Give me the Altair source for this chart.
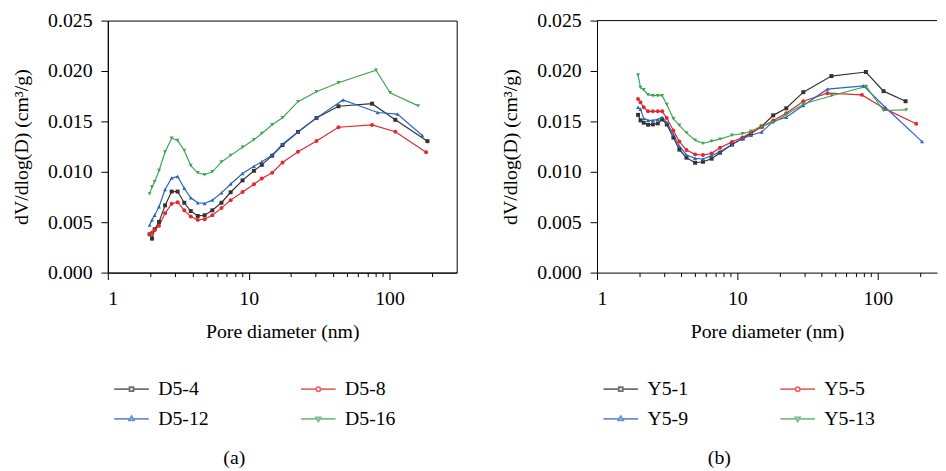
import altair as alt
import pandas as pd

FONT = "Liberation Serif"

# ---------------- Panel (a) ----------------
a_series = ["D5-4", "D5-8", "D5-12", "D5-16"]
a_common = [1.98, 2.06, 2.15, 2.31, 2.55, 2.84, 3.13, 3.49, 3.88, 4.35, 4.87,
            5.52, 6.41, 7.45, 9.05, 10.9, 12.4, 14.7, 17.4, 22.4, 30.3, 43.4]
a_x = {
    "D5-4": a_common + [75.2, 110, 186],
    "D5-8": a_common + [75.2, 110, 182],
    "D5-12": a_common[:21] + [46.8, 82.4, 114, 171],
    "D5-16": a_common + [80.2, 101, 160],
}
a_y = {
    "D5-4": [0.0038, 0.00337, 0.0043, 0.00503, 0.00667, 0.00804, 0.00804, 0.00693,
             0.00611, 0.00562, 0.00569, 0.00618, 0.00693, 0.00797, 0.00915, 0.0101,
             0.01069, 0.0116, 0.01265, 0.01395, 0.01533, 0.0165, 0.01676, 0.01516, 0.01304],
    "D5-8": [0.00382, 0.00399, 0.00422, 0.00464, 0.00588, 0.00683, 0.00699, 0.00618,
             0.00556, 0.00523, 0.00529, 0.00569, 0.0064, 0.00719, 0.008, 0.00876,
             0.00933, 0.00991, 0.01092, 0.01198, 0.01305, 0.01442, 0.01465, 0.01398, 0.01193],
    "D5-12": [0.00471, 0.00523, 0.00569, 0.00654, 0.00824, 0.00938, 0.00954, 0.00837,
              0.00742, 0.00693, 0.00686, 0.00719, 0.00791, 0.00879, 0.00983, 0.01054,
              0.011, 0.01167, 0.01273, 0.01398, 0.01535, 0.01712, 0.01588, 0.01572, 0.0136],
    "D5-16": [0.00781, 0.0085, 0.00902, 0.01013, 0.01196, 0.01333, 0.0131, 0.01212,
              0.01062, 0.0099, 0.00971, 0.01, 0.01098, 0.01163, 0.01244, 0.01318,
              0.0138, 0.01467, 0.01537, 0.01696, 0.01794, 0.01884, 0.02007, 0.01784, 0.01654],
}

# ---------------- Panel (b) ----------------
b_series = ["Y5-1", "Y5-5", "Y5-9", "Y5-13"]
b_common = [1.96, 2.04, 2.15, 2.31, 2.50, 2.71, 2.91, 3.14, 3.50, 3.86, 4.34,
            5.00, 5.69, 6.55, 7.53, 9.15, 10.9, 12.5, 14.9, 18.0, 22.3, 29.5]
b_x = {
    "Y5-1": b_common + [46.8, 82.4, 110, 158],
    "Y5-5": b_common + [43.8, 77.2, 113, 188],
    "Y5-9": b_common + [43.8, 79.3, 113, 207],
    "Y5-13": b_common + [47.0, 82.8, 110, 160],
}
b_y = {
    "Y5-1": [0.01565, 0.0151, 0.01487, 0.01467, 0.0147, 0.0148, 0.0152, 0.0147,
             0.0134, 0.0122, 0.0114, 0.0109, 0.011, 0.0113, 0.0119, 0.0127, 0.0133,
             0.0138, 0.0145, 0.0156, 0.0163, 0.0179, 0.0195, 0.0199, 0.018, 0.017],
    "Y5-5": [0.01722, 0.0169, 0.0164, 0.016, 0.016, 0.016, 0.016, 0.01533,
             0.0141, 0.013, 0.01216, 0.01173, 0.01167, 0.01183, 0.01239, 0.01297, 0.0134,
             0.0139, 0.01444, 0.0151, 0.0158, 0.017, 0.0178, 0.01763, 0.01624, 0.01477],
    "Y5-9": [0.0164, 0.0162, 0.0153, 0.0151, 0.0151, 0.0152, 0.0154, 0.0149,
             0.0137, 0.01255, 0.01167, 0.01134, 0.01127, 0.0116, 0.012, 0.01271, 0.0133,
             0.01363, 0.01395, 0.015, 0.01542, 0.01657, 0.0182, 0.01853, 0.0164, 0.013],
    "Y5-13": [0.01961, 0.01837, 0.01814, 0.01765, 0.01755, 0.01755, 0.01755, 0.01667,
              0.01526, 0.01461, 0.01386, 0.01314, 0.01281, 0.01304, 0.01324, 0.01363, 0.01379,
              0.01402, 0.01454, 0.01487, 0.01569, 0.01673, 0.01755, 0.01846, 0.01608, 0.01614],
}

colors = ["#333333", "#e3282d", "#2a62bf", "#3fa656"]
marker_shapes = ["square", "circle", "triangle-up", "triangle-down"]
legend_paths = [
    "M-1.75,0H-0.2M0.2,0H1.75M-0.2,-0.2H0.2V0.2H-0.2Z",
    "M-1.75,0H-0.22M0.22,0H1.75M-0.22,0A0.22,0.22,0,1,0,0.22,0A0.22,0.22,0,1,0,-0.22,0Z",
    "M-1.75,0H-0.2M0.2,0H1.75M0,-0.26L0.24,0.16H-0.24Z",
    "M-1.75,0H-0.2M0.2,0H1.75M0,0.26L0.24,-0.16H-0.24Z",
]
y_ticks = [0.0, 0.005, 0.01, 0.015, 0.02, 0.025]
x_ticks = [1, 2, 3, 4, 5, 6, 7, 8, 9, 10, 20, 30, 40, 50, 60, 70, 80, 90, 100, 200]


def build_df(series, xs, ys):
    rows = []
    for s in series:
        for i, (d, v) in enumerate(zip(xs[s], ys[s])):
            rows.append({"series": s, "d": d, "v": v, "i": i})
    return pd.DataFrame(rows)


def panel(series, xs, ys, xmax, width, caption, framed):
    df = build_df(series, xs, ys)
    xenc = alt.X(
        "d:Q",
        scale=alt.Scale(type="log", domain=[1, xmax], nice=False),
        axis=alt.Axis(
            values=x_ticks,
            labelExpr="datum.value == 1 ? '1' : datum.value == 10 ? '10' : datum.value == 100 ? '100' : ''",
            labelOverlap=False,
            tickSize={"condition": {"test": "datum.value == 1 || datum.value == 10 || datum.value == 100", "value": 7}, "value": 4},
            labelPadding=9,
            title="Pore diameter (nm)",
            titlePadding=14,
        ),
    )
    yenc = alt.Y(
        "v:Q",
        scale=alt.Scale(domain=[0, 0.025], nice=False),
        axis=alt.Axis(values=y_ticks, format=".3f", tickSize=7, labelPadding=9,
                      title="dV/dlog(D) (cm³/g)", titlePadding=16),
    )
    base = alt.Chart(df)
    layers = []
    for s, c in zip(series, colors):
        layers.append(
            base.transform_filter(alt.datum.series == s)
            .mark_line(strokeWidth=1.2, color=c)
            .encode(x=xenc, y=yenc, order="i:Q")
        )
    for s, c, shp in zip(series, colors, marker_shapes):
        layers.append(
            base.transform_filter(alt.datum.series == s)
            .mark_point(shape=shp, filled=True, size=16, opacity=1, color=c)
            .encode(x=xenc, y=yenc)
        )
    leg = dict(orient="none", legendX=13, legendY=362, columns=2, columnPadding=88,
               direction="horizontal",
               rowPadding=9, labelFont=FONT, labelFontSize=20, labelColor="black",
               labelOffset=16, symbolSize=400, symbolStrokeWidth=1.8, title=None)
    legend_layer = (
        base.transform_filter("datum.i < 0")
        .mark_point(filled=False, strokeWidth=1.8)
        .encode(
            x=xenc, y=yenc,
            color=alt.Color("series:N", scale=alt.Scale(domain=series, range=colors),
                            legend=alt.Legend(**leg)),
            shape=alt.Shape("series:N", scale=alt.Scale(domain=series, range=legend_paths),
                            legend=alt.Legend(**leg)),
        )
    )
    layers.append(legend_layer)
    if not framed:
        top = alt.Chart(pd.DataFrame({"v": [0.025]})).mark_rule(color="black", strokeWidth=1).encode(
            y=alt.Y("v:Q", scale=alt.Scale(domain=[0, 0.025], nice=False)))
        layers.append(top)
    props = dict(width=width, height=255,
                 title=alt.TitleParams(caption, orient="bottom", font=FONT, fontSize=20,
                                       fontWeight="normal", color="black", offset=20,
                                       frame="bounds", anchor="middle"))
    if not framed:
        props["view"] = alt.ViewBackground(strokeOpacity=0)
    return alt.layer(*layers).properties(**props)


left = panel(a_series, a_x, a_y, 300, 353, "(a)", True)
right = panel(b_series, b_x, b_y, 264.6, 344, "(b)", False)

chart = (
    alt.hconcat(left, right, spacing=44)
    .resolve_scale(color="independent", shape="independent")
    .properties(padding={"left": 3, "top": -1, "right": 0, "bottom": 0})
    .configure_view(stroke="black", strokeWidth=1)
    .configure_axis(
        grid=False, domainColor="black", tickColor="black", labelColor="black",
        titleColor="black", labelFont=FONT, titleFont=FONT, labelFontSize=20,
        titleFontSize=20, titleFontWeight="normal", domainWidth=1, tickWidth=1,
    )
    .configure_title(font=FONT, fontSize=20, fontWeight="normal", color="black")
)

chart.save("out.html", embed_options={"renderer": "svg", "actions": False})
